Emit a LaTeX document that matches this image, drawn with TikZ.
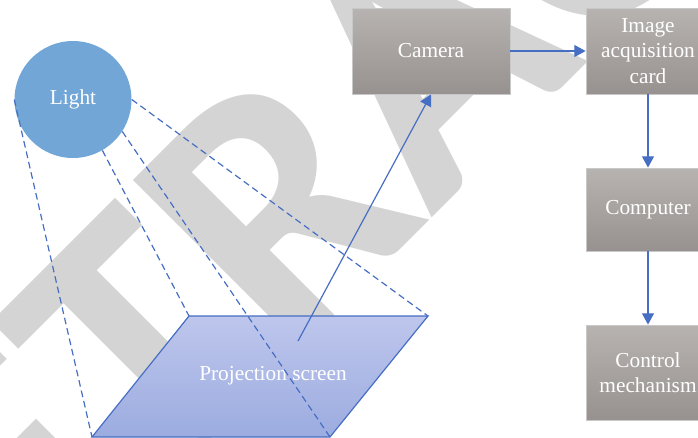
\documentclass[tikz,border=0pt]{standalone}
\usepackage{fontspec}
\setmainfont{Liberation Serif}
\newfontfamily\stampfont{Carlito}
\usetikzlibrary{arrows.meta}

\definecolor{wmgray}{RGB}{212,212,212}
\definecolor{lightblue}{RGB}{114,166,214}
\definecolor{boxtop}{RGB}{183,179,177}
\definecolor{boxbot}{RGB}{151,146,143}
\definecolor{boxline}{RGB}{200,200,200}
\definecolor{screentop}{RGB}{190,198,236}
\definecolor{screenbot}{RGB}{156,172,224}
\definecolor{linkblue}{RGB}{70,110,195}

\tikzset{
  label text/.style={text=white, font=\fontsize{16}{19}\selectfont, align=center},
  procbox/.style={label text, draw=boxline, line width=0.6pt,
    top color=boxtop, bottom color=boxbot, inner sep=0pt},
  lamp/.style={label text, circle, fill=lightblue, inner sep=0pt, minimum size=87.75pt},
  screen/.style={draw=linkblue, line width=0.9pt, top color=screentop, bottom color=screenbot},
  flow/.style={draw=linkblue, line width=0.9pt, -{Triangle[length=8.5pt,width=9pt]}},
  ray/.style={draw=linkblue, line width=0.9pt, dash pattern=on 5pt off 3pt},
  stamp/.style={text=wmgray, font=\stampfont\bfseries\fontsize{275}{275}\selectfont, inner sep=0pt}
}

\begin{document}
\begin{tikzpicture}[x=0.75pt,y=-0.75pt]
\useasboundingbox (0,0) rectangle (698,437);
\clip (0,0) rectangle (698,437);

% background stamp
\node[stamp, rotate=45, anchor=base] (stamp) at (514,136) {RETRACTED};

% projection screen
\coordinate (s1) at (189,316);
\coordinate (s2) at (428,316);
\coordinate (s3) at (330,437);
\coordinate (s4) at (92,437);
\path[screen] (s1) -- (s2) -- (s3) -- (s4) -- cycle;
\node[label text] (screentext) at (273,376) {Projection screen};
\coordinate (shot) at (298,341);

% light source
\node[lamp] (light) at (73,99.5) {Light};

% light rays
\draw[ray] (light.180) -- (s4);
\draw[ray] (light.-60) -- (s1);
\draw[ray] (light.-33) -- (s3);
\draw[ray] (light.0) -- (s2);

% processing chain
\node[procbox, minimum width=118.5pt, minimum height=64.5pt] (camera) at (431,51) {Camera};
\node[procbox, minimum width=93pt, minimum height=64.5pt] (card) at (648,51) {Image\\acquisition\\card};
\node[procbox, minimum width=93pt, minimum height=62.25pt] (computer) at (648,209.5) {Computer};
\node[procbox, minimum width=93pt, minimum height=71.25pt] (control) at (648,372.5) {Control\\mechanism};

% connectors
\draw[flow] (shot) -- (camera.south);
\draw[flow] (camera.east) -- (card.west);
\draw[flow] (card.south) -- (computer.north);
\draw[flow] (computer.south) -- (control.north);
\end{tikzpicture}
\end{document}
